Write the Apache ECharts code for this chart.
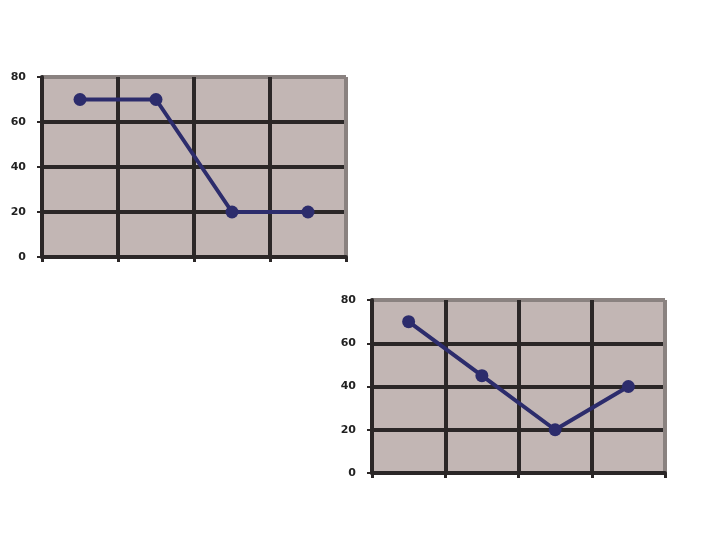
<!DOCTYPE html>
<html>
<head>
<meta charset="utf-8">
<script src="https://cdn.jsdelivr.net/npm/echarts@6/dist/echarts.min.js"></script>
<style>html,body{margin:0;padding:0;background:#fff}#c{width:720px;height:540px}</style>
</head>
<body>
<div id="c"></div>
<script>
var categories = ['A', 'B', 'C', 'D'];
var seriesTop = [70, 70, 20, 20];
var seriesBottom = [70, 45, 20, 40];
var yTicks = [0, 20, 40, 60, 80];

var dark = '#2b2727';
var borderGray = '#8a8280';
var bg = '#c2b6b4';
var lineColor = '#2c2c6c';

function mkX(gi) {
  return {
    type: 'category', gridIndex: gi, data: categories, boundaryGap: true,
    axisLine: {show: true, lineStyle: {color: dark, width: 4}},
    axisTick: {show: true, length: 5, alignWithLabel: false, lineStyle: {color: dark, width: 3}},
    axisLabel: {show: false},
    splitLine: {show: true, lineStyle: {color: [dark, dark, dark, dark, borderGray], width: 4}}
  };
}
function mkY(gi) {
  return {
    type: 'value', gridIndex: gi, min: yTicks[0], max: yTicks[yTicks.length - 1], interval: 20,
    axisLine: {show: true, lineStyle: {color: dark, width: 4}},
    axisTick: {show: true, length: 5, lineStyle: {color: dark, width: 2}},
    axisLabel: {show: true, margin: 16, color: '#222', fontFamily: 'DejaVu Sans', fontWeight: 'bold', fontSize: 11},
    splitLine: {show: true, lineStyle: {color: [dark, dark, dark, dark, borderGray], width: 4}}
  };
}
function mkS(gi, data) {
  return {
    type: 'line', xAxisIndex: gi, yAxisIndex: gi, data: data,
    symbol: 'circle', symbolSize: 13,
    lineStyle: {color: lineColor, width: 4},
    itemStyle: {color: lineColor},
    animation: false
  };
}

var chart = echarts.init(document.getElementById('c'));
chart.setOption({
  animation: false,
  grid: [
    {left: 42, top: 77, width: 304, height: 180, show: true, backgroundColor: bg, borderWidth: 0},
    {left: 372, top: 300, width: 293, height: 173, show: true, backgroundColor: bg, borderWidth: 0}
  ],
  xAxis: [mkX(0), mkX(1)],
  yAxis: [mkY(0), mkY(1)],
  series: [mkS(0, seriesTop), mkS(1, seriesBottom)]
});
</script>
</body>
</html>
